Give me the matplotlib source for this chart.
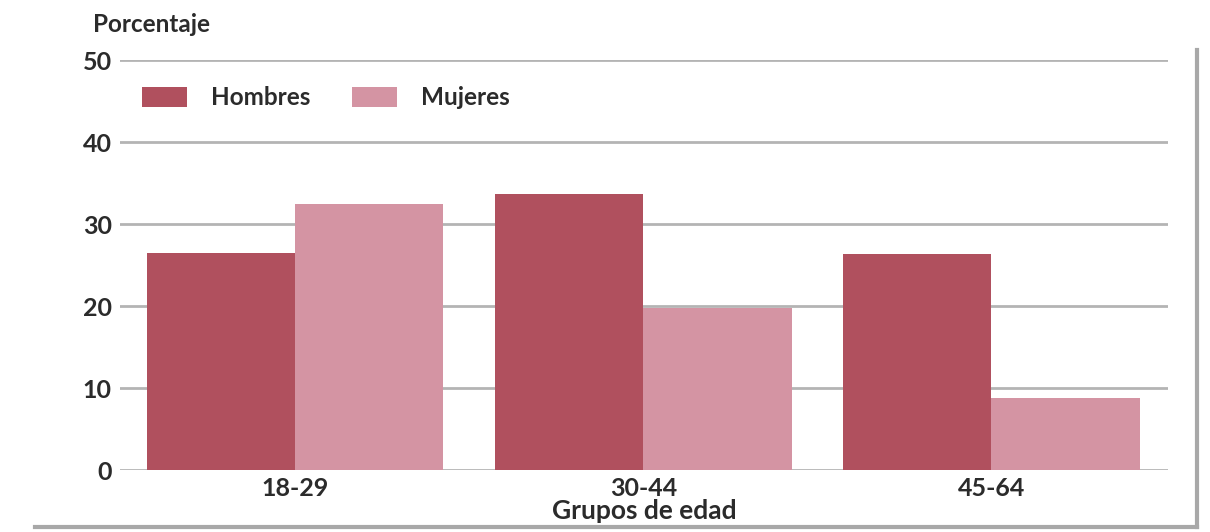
import matplotlib.pyplot as plt
import numpy as np
from matplotlib.lines import Line2D

plt.rcParams['font.family'] = ['Lato', 'DejaVu Sans']

grupos = ['18-29', '30-44', '45-64']
hombres = [26.5, 33.7, 26.3]
mujeres = [32.5, 19.8, 8.8]
series = ['Hombres', 'Mujeres']

color_h = '#b0505e'
color_m = '#d494a3'
grid_color = '#b4b4b4'
text_color = '#2b2b2b'


def draw_chart():
    fig = plt.figure(figsize=(12.1, 5.32), dpi=100)
    ax = fig.add_axes([120 / 1210, 1 - 470 / 532, 1048 / 1210, 410 / 532])

    x = np.arange(len(grupos))
    w = 0.426
    ax.bar(x - w / 2, hombres, w, color=color_h, label=series[0], zorder=2)
    ax.bar(x + w / 2, mujeres, w, color=color_m, label=series[1], zorder=2)

    ax.set_xlim(-0.503, 2.507)
    ax.set_ylim(0, 50)
    ax.set_yticks([0, 10, 20, 30, 40, 50])
    ax.yaxis.grid(True, color=grid_color, linewidth=2, zorder=0)
    ax.set_axisbelow(True)
    for s in ax.spines.values():
        s.set_visible(False)
    ax.tick_params(axis='both', length=0, labelsize=18, labelcolor=text_color)
    ax.tick_params(axis='y', pad=6)
    ax.tick_params(axis='x', pad=5)
    ax.set_xticks(x)
    ax.set_xticklabels(grupos, fontweight='bold')
    for lab in ax.get_yticklabels():
        lab.set_fontweight('bold')

    ax.set_xlabel('Grupos de edad', fontsize=19, fontweight='bold',
                  color=text_color, labelpad=-1)
    fig.text(93 / 1210, 1 - 25 / 532, 'Porcentaje', fontsize=17.5,
             fontweight='bold', color=text_color, va='center', ha='left')

    leg = ax.legend(loc='upper left', bbox_to_anchor=(0.0, 0.99), ncol=2,
                    frameon=False, handlelength=1.85,
                    handleheight=0.9, handletextpad=1.0, columnspacing=1.7,
                    prop={'weight': 'bold', 'size': 17.5})
    for t in leg.get_texts():
        t.set_color(text_color)

    # marco gris a la derecha y abajo
    border = '#a8a8a8'
    fig.add_artist(Line2D([1197 / 1210, 1197 / 1210], [1 - 50 / 532, 1 - 527 / 532],
                          color=border, linewidth=3, transform=fig.transFigure))
    fig.add_artist(Line2D([35 / 1210, 1197 / 1210], [1 - 527 / 532, 1 - 527 / 532],
                          color=border, linewidth=3, transform=fig.transFigure))

    fig.savefig('out.png', dpi=100)


if __name__ == "__main__":
    draw_chart()
